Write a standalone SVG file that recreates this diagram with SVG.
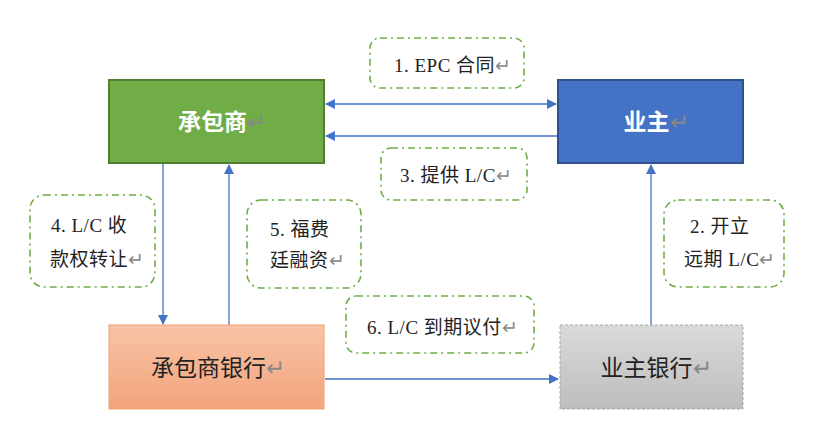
<svg xmlns="http://www.w3.org/2000/svg" width="815" height="448" viewBox="0 0 815 448">
<defs>
<linearGradient id="gOrange" x1="0" y1="0" x2="0" y2="1">
<stop offset="0" stop-color="#F8C3A6"/>
<stop offset="1" stop-color="#F3A47C"/>
</linearGradient>
<linearGradient id="gGray" x1="0" y1="0" x2="0" y2="1">
<stop offset="0" stop-color="#DADADA"/>
<stop offset="1" stop-color="#BDBDBD"/>
</linearGradient>
<marker id="ah" viewBox="0 0 10 10" refX="9" refY="5" markerWidth="10" markerHeight="10" markerUnits="userSpaceOnUse" orient="auto-start-reverse">
<path d="M0,0 L10,5 L0,10 z" fill="#4472C4"/>
</marker>
</defs>
<style>
.lbl{fill:#fff;stroke:#70AD47;stroke-width:1.6;stroke-dasharray:7,4,2,4}
.lt{font-family:"Liberation Serif","Noto Sans CJK SC",serif;font-size:19px;letter-spacing:0.5px;fill:#222}
.nt{font-family:"Liberation Serif","Noto Sans CJK SC",serif;font-size:23px}
.ret{fill:#888;font-family:"Noto Sans CJK SC",sans-serif;font-weight:normal;letter-spacing:0}
.con{stroke:#4472C4;stroke-width:1.3;fill:none}
</style>
<rect width="815" height="448" fill="#fff"/>
<g id="connectors">
<line class="con" x1="326" y1="104" x2="556" y2="104" marker-start="url(#ah)" marker-end="url(#ah)"/>
<line class="con" x1="558" y1="136" x2="326" y2="136" marker-end="url(#ah)"/>
<line class="con" x1="163" y1="164" x2="163" y2="324" marker-end="url(#ah)"/>
<line class="con" x1="229" y1="325" x2="229" y2="165" marker-end="url(#ah)"/>
<line class="con" x1="651" y1="325" x2="651" y2="165" marker-end="url(#ah)"/>
<line class="con" x1="325" y1="379" x2="558" y2="379" marker-end="url(#ah)"/>
</g>
<g id="contractor">
<rect x="109" y="80" width="215" height="83" fill="#70AD47" stroke="#507E32" stroke-width="2"/>
<text class="nt" x="222" y="130" text-anchor="middle" fill="#fff" font-weight="bold">承包商<tspan class="ret">↵</tspan></text>
</g>
<g id="owner">
<rect x="558" y="80" width="185" height="83" fill="#4472C4" stroke="#2F528F" stroke-width="2"/>
<text class="nt" x="656" y="130" text-anchor="middle" fill="#fff" font-weight="bold">业主<tspan class="ret">↵</tspan></text>
</g>
<g id="contractor-bank">
<rect x="109" y="325" width="215" height="84" fill="url(#gOrange)" stroke="#F0A070" stroke-width="1"/>
<text class="nt" x="218" y="376" text-anchor="middle" fill="#222">承包商银行<tspan class="ret">↵</tspan></text>
</g>
<g id="owner-bank">
<rect x="560" y="325" width="183" height="84" fill="url(#gGray)" stroke="#A6A6A6" stroke-width="1" stroke-dasharray="3,2"/>
<text class="nt" x="656" y="376" text-anchor="middle" fill="#222">业主银行<tspan class="ret">↵</tspan></text>
</g>
<g id="label1">
<rect class="lbl" x="370" y="38" width="154" height="50" rx="10"/>
<text class="lt" x="394" y="72">1. EPC 合同<tspan class="ret">↵</tspan></text>
</g>
<g id="label3">
<rect class="lbl" x="381" y="148" width="146" height="52" rx="10"/>
<text class="lt" x="400" y="182">3. 提供 L/C<tspan class="ret">↵</tspan></text>
</g>
<g id="label4">
<rect class="lbl" x="30" y="195" width="125" height="92" rx="14"/>
<text class="lt" x="51" y="232">4. L/C 收</text>
<text class="lt" x="50" y="266">款权转让<tspan class="ret">↵</tspan></text>
</g>
<g id="label5">
<rect class="lbl" x="247" y="200" width="114" height="88" rx="14"/>
<text class="lt" x="270" y="236">5. 福费</text>
<text class="lt" x="270" y="267">廷融资<tspan class="ret">↵</tspan></text>
</g>
<g id="label2">
<rect class="lbl" x="664" y="200" width="120" height="87" rx="14"/>
<text class="lt" x="690" y="233">2. 开立</text>
<text class="lt" x="684" y="266">远期 L/C<tspan class="ret">↵</tspan></text>
</g>
<g id="label6">
<rect class="lbl" x="346" y="296" width="188" height="57" rx="10"/>
<text class="lt" x="367" y="334">6. L/C 到期议付<tspan class="ret">↵</tspan></text>
</g>
</svg>
